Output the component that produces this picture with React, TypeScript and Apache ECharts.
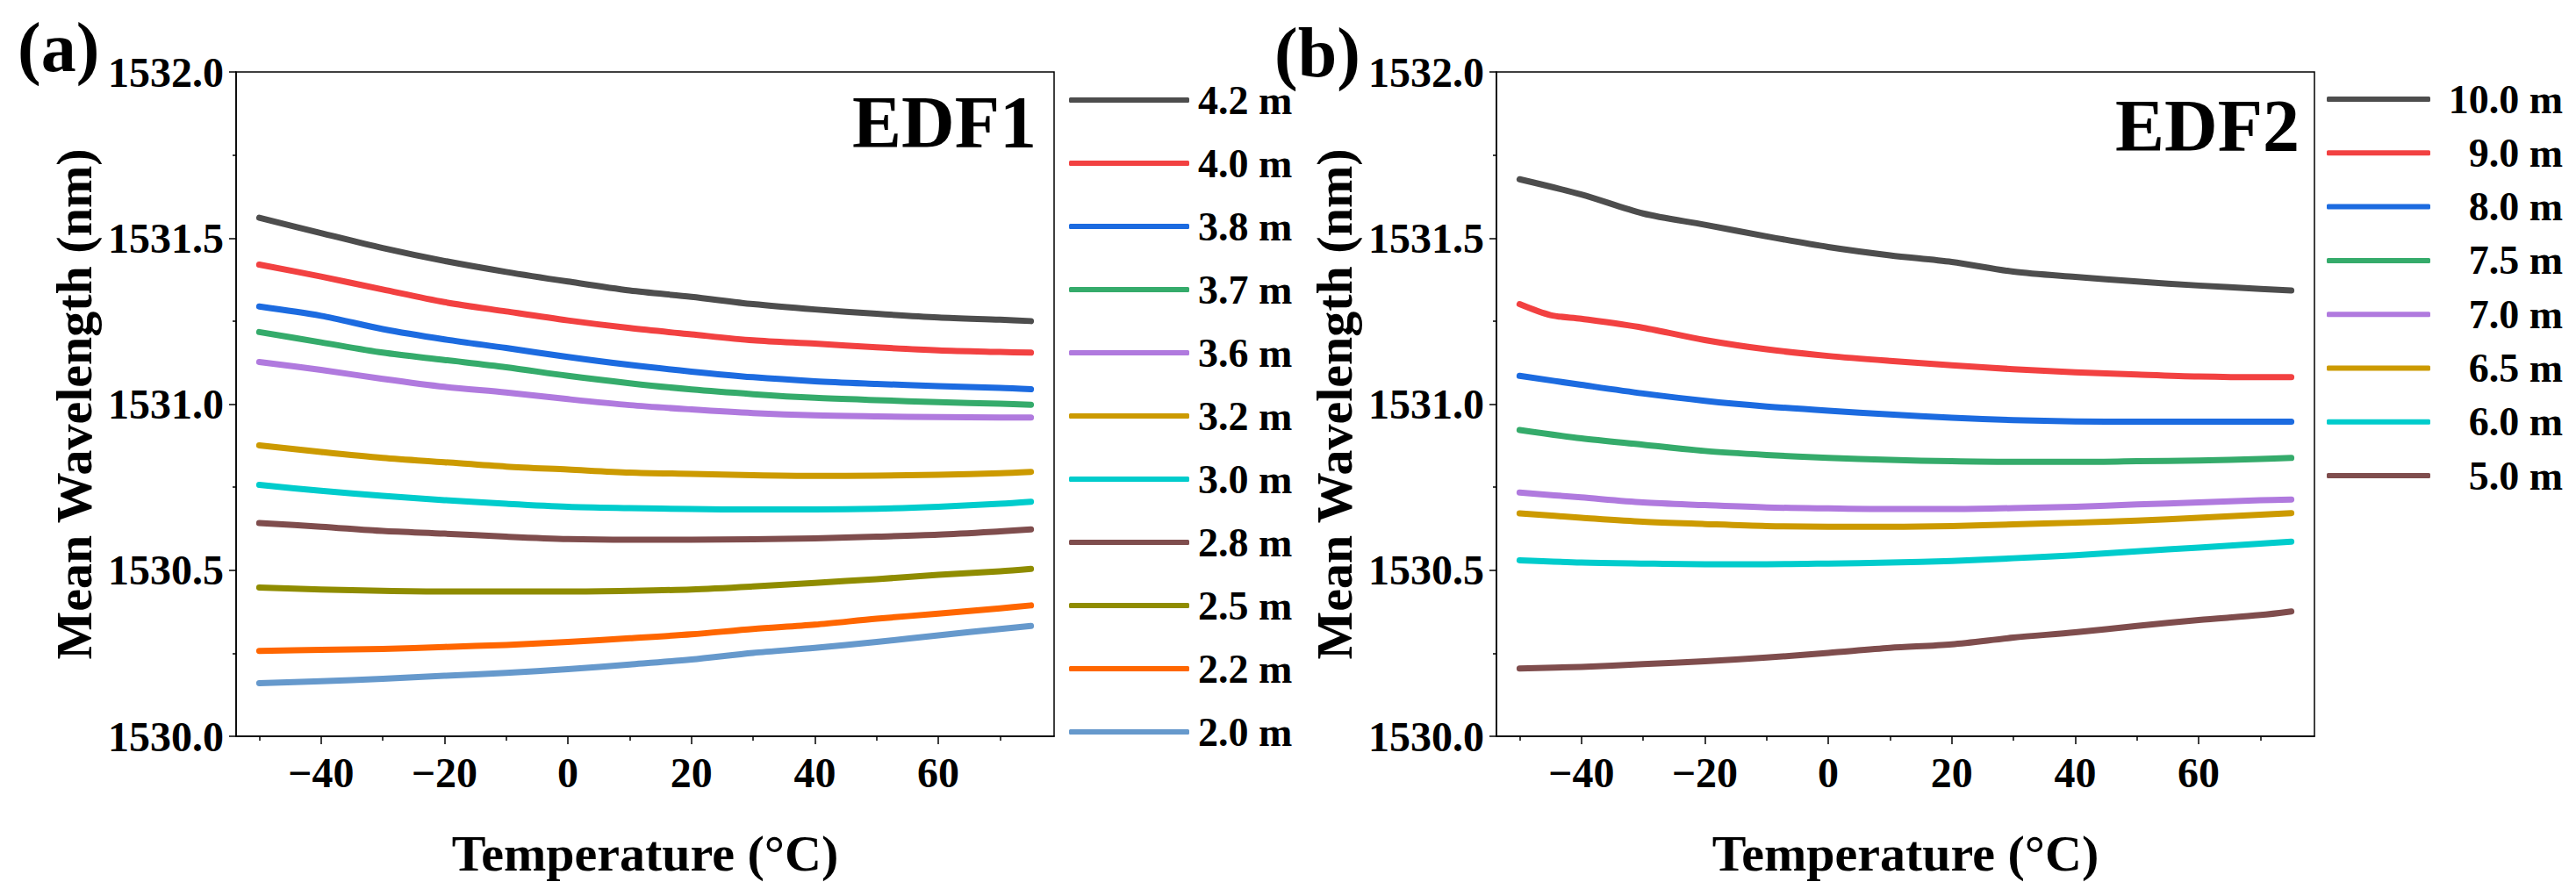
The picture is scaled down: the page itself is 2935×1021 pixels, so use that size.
import React, { useEffect, useRef } from "react";
import * as echarts from "echarts";

const TEMPS = [-50, -40, -30, -20, -10, 0, 10, 20, 30, 40, 50, 60, 70, 75];
const TEMPS_9 = [-50, -45, -40, -30, -20, -10, 0, 10, 20, 30, 40, 50, 60, 70, 75];

const X_MAJOR = [-40, -20, 0, 20, 40, 60];
const X_MINOR = [-50, -30, -10, 10, 30, 50, 70];

// EDF1
const L42 = [1531.561, 1531.515, 1531.47, 1531.431, 1531.398, 1531.369, 1531.342, 1531.323, 1531.301, 1531.285, 1531.272, 1531.261, 1531.254, 1531.25];
const L40 = [1531.42, 1531.384, 1531.345, 1531.307, 1531.279, 1531.252, 1531.229, 1531.21, 1531.192, 1531.182, 1531.171, 1531.162, 1531.157, 1531.155];
const L38 = [1531.294, 1531.266, 1531.226, 1531.195, 1531.169, 1531.142, 1531.118, 1531.098, 1531.081, 1531.069, 1531.061, 1531.054, 1531.049, 1531.045];
const L37 = [1531.217, 1531.186, 1531.155, 1531.133, 1531.111, 1531.085, 1531.063, 1531.044, 1531.03, 1531.019, 1531.012, 1531.006, 1531.001, 1530.998];
const L36 = [1531.127, 1531.103, 1531.076, 1531.052, 1531.035, 1531.015, 1530.997, 1530.984, 1530.973, 1530.966, 1530.963, 1530.961, 1530.96, 1530.96];
const L32 = [1530.876, 1530.856, 1530.838, 1530.825, 1530.812, 1530.803, 1530.794, 1530.79, 1530.786, 1530.784, 1530.785, 1530.787, 1530.792, 1530.796];
const L30 = [1530.757, 1530.739, 1530.724, 1530.711, 1530.7, 1530.691, 1530.687, 1530.684, 1530.683, 1530.683, 1530.685, 1530.691, 1530.7, 1530.706];
const L28 = [1530.642, 1530.631, 1530.618, 1530.61, 1530.601, 1530.594, 1530.592, 1530.592, 1530.593, 1530.596, 1530.601, 1530.607, 1530.617, 1530.623];
const L25 = [1530.448, 1530.442, 1530.438, 1530.436, 1530.436, 1530.436, 1530.438, 1530.442, 1530.451, 1530.462, 1530.473, 1530.486, 1530.497, 1530.504];
const L22 = [1530.257, 1530.26, 1530.263, 1530.269, 1530.275, 1530.284, 1530.295, 1530.307, 1530.323, 1530.336, 1530.354, 1530.369, 1530.385, 1530.394];
const L20 = [1530.16, 1530.166, 1530.173, 1530.182, 1530.191, 1530.202, 1530.216, 1530.231, 1530.251, 1530.266, 1530.284, 1530.304, 1530.323, 1530.332];

// EDF2
const R100 = [1531.677, 1531.631, 1531.574, 1531.54, 1531.505, 1531.473, 1531.448, 1531.428, 1531.399, 1531.383, 1531.369, 1531.357, 1531.347, 1531.342];
const R90 = [1531.301, 1531.268, 1531.257, 1531.23, 1531.193, 1531.165, 1531.145, 1531.13, 1531.117, 1531.105, 1531.096, 1531.089, 1531.083, 1531.081, 1531.081];
const R80 = [1531.085, 1531.058, 1531.032, 1531.01, 1530.993, 1530.98, 1530.969, 1530.959, 1530.952, 1530.948, 1530.947, 1530.947, 1530.947, 1530.947];
const R75 = [1530.922, 1530.897, 1530.878, 1530.859, 1530.847, 1530.838, 1530.832, 1530.828, 1530.826, 1530.826, 1530.828, 1530.83, 1530.835, 1530.838];
const R70 = [1530.734, 1530.719, 1530.704, 1530.696, 1530.689, 1530.686, 1530.684, 1530.684, 1530.687, 1530.691, 1530.698, 1530.704, 1530.711, 1530.713];
const R65 = [1530.671, 1530.658, 1530.646, 1530.639, 1530.633, 1530.631, 1530.631, 1530.633, 1530.638, 1530.643, 1530.649, 1530.658, 1530.667, 1530.672];
const R60 = [1530.53, 1530.523, 1530.52, 1530.518, 1530.518, 1530.52, 1530.523, 1530.528, 1530.536, 1530.545, 1530.557, 1530.568, 1530.58, 1530.586];
const R50 = [1530.204, 1530.209, 1530.217, 1530.226, 1530.237, 1530.251, 1530.266, 1530.277, 1530.297, 1530.313, 1530.332, 1530.35, 1530.365, 1530.376];

const C_GRAY = "#4d4d4d";
const C_RED = "#f24141";
const C_BLUE = "#1c6be0";
const C_GREEN = "#35ab6b";
const C_PURPLE = "#b07ade";
const C_GOLD = "#cc9a00";
const C_CYAN = "#00cccc";
const C_BROWN = "#7f4d4d";
const C_OLIVE = "#8f8c00";
const C_ORANGE = "#ff6600";
const C_LBLUE = "#6699cc";

const LEFT_SERIES: [string, number[], number[], string][] = [
  ["4.2 m", TEMPS, L42, C_GRAY],
  ["4.0 m", TEMPS, L40, C_RED],
  ["3.8 m", TEMPS, L38, C_BLUE],
  ["3.7 m", TEMPS, L37, C_GREEN],
  ["3.6 m", TEMPS, L36, C_PURPLE],
  ["3.2 m", TEMPS, L32, C_GOLD],
  ["3.0 m", TEMPS, L30, C_CYAN],
  ["2.8 m", TEMPS, L28, C_BROWN],
  ["2.5 m", TEMPS, L25, C_OLIVE],
  ["2.2 m", TEMPS, L22, C_ORANGE],
  ["2.0 m", TEMPS, L20, C_LBLUE],
];

const RIGHT_SERIES: [string, number[], number[], string][] = [
  ["10.0 m", TEMPS, R100, C_GRAY],
  ["9.0 m", TEMPS_9, R90, C_RED],
  ["8.0 m", TEMPS, R80, C_BLUE],
  ["7.5 m", TEMPS, R75, C_GREEN],
  ["7.0 m", TEMPS, R70, C_PURPLE],
  ["6.5 m", TEMPS, R65, C_GOLD],
  ["6.0 m", TEMPS, R60, C_CYAN],
  ["5.0 m", TEMPS, R50, C_BROWN],
];

const FONT = "'Liberation Serif', 'Times New Roman', serif";

function xAxes(gridIndex: number) {
  const main = {
    type: "value",
    gridIndex,
    min: -53.75,
    max: 78.75,
    position: "bottom",
    splitLine: { show: false },
    axisLine: { show: true, onZero: false, lineStyle: { color: "#000", width: 1.5 } },
    axisTick: { show: true, customValues: X_MAJOR, length: 9, lineStyle: { color: "#000", width: 1.5 } },
    axisLabel: {
      customValues: X_MAJOR,
      fontSize: 48,
      fontWeight: "bold",
      fontFamily: FONT,
      color: "#000",
      margin: 17,
      formatter: (v: number) => (v < 0 ? "\u2212" + Math.abs(v) : String(v)),
    },
    name: "Temperature (\u00b0C)",
    nameLocation: "middle",
    nameGap: 104,
    nameTextStyle: { fontSize: 58, fontWeight: "bold", fontFamily: FONT, color: "#000" },
  };
  const minor = {
    type: "value",
    gridIndex,
    min: -53.75,
    max: 78.75,
    position: "bottom",
    splitLine: { show: false },
    axisLine: { show: false, onZero: false },
    axisTick: { show: true, customValues: X_MINOR, length: 5, lineStyle: { color: "#000", width: 1.5 } },
    axisLabel: { show: false },
  };
  return [main, minor];
}

function yAxis(gridIndex: number) {
  return {
    type: "value",
    gridIndex,
    min: 1530,
    max: 1532,
    interval: 0.5,
    splitLine: { show: false },
    axisLine: { show: true, onZero: false, lineStyle: { color: "#000", width: 1.5 } },
    axisTick: { show: true, length: 8, lineStyle: { color: "#000", width: 1.5 } },
    minorTick: { show: true, splitNumber: 2, length: 4, lineStyle: { color: "#000", width: 1.5 } },
    axisLabel: {
      fontSize: 48,
      fontWeight: "bold",
      fontFamily: FONT,
      color: "#000",
      margin: 14,
      formatter: (v: number) => v.toFixed(1),
    },
    name: "Mean Wavelength (nm)",
    nameLocation: "middle",
    nameGap: 156,
    nameRotate: 90,
    nameTextStyle: { fontSize: 58, fontWeight: "bold", fontFamily: FONT, color: "#000" },
  };
}

function makeSeries(list: [string, number[], number[], string][], xIdx: number, yIdx: number) {
  return list.map(([name, xs, ys, color]) => ({
    name,
    type: "line",
    xAxisIndex: xIdx,
    yAxisIndex: yIdx,
    data: xs.map((x, i) => [x, ys[i]]),
    showSymbol: false,
    symbol: "none",
    smooth: 0.3,
    color,
    lineStyle: { color, width: 7, cap: "round", join: "round" },
    emphasis: { disabled: true },
  }));
}

export default function App() {
  const ref = useRef<HTMLDivElement>(null);
  useEffect(() => {
    if (!ref.current) return;
    const chart = echarts.init(ref.current, undefined, { renderer: "svg" });
    const option = {
      animation: false,
      backgroundColor: "#fff",
      grid: [
        { left: 269, top: 82, width: 932, height: 757, show: true, borderColor: "#000", borderWidth: 1.5, backgroundColor: "transparent" },
        { left: 1705, top: 82, width: 932, height: 757, show: true, borderColor: "#000", borderWidth: 1.5, backgroundColor: "transparent" },
      ],
      xAxis: [...xAxes(0), ...xAxes(1)],
      yAxis: [yAxis(0), yAxis(1)],
      legend: [
        {
          data: LEFT_SERIES.map((s) => s[0]),
          orient: "vertical",
          left: 1213,
          top: 84,
          itemWidth: 137,
          itemHeight: 6,
          icon: "roundRect",
          itemGap: 22,
          selectedMode: false,
          textStyle: { fontSize: 46, fontWeight: "bold", fontFamily: FONT, color: "#000", lineHeight: 50, padding: [0, 0, 0, 5] },
        },
        {
          data: RIGHT_SERIES.map((s) => s[0]),
          orient: "vertical",
          left: 2646,
          top: 84,
          itemWidth: 118,
          itemHeight: 6,
          icon: "roundRect",
          itemGap: 13.3,
          selectedMode: false,
          formatter: "{a|{name}}",
          textStyle: {
            fontSize: 46,
            fontWeight: "bold",
            fontFamily: FONT,
            color: "#000",
            lineHeight: 48,
            padding: [0, 0, 0, 7],
            rich: { a: { width: 139, align: "right", fontSize: 46, fontWeight: "bold", fontFamily: FONT, color: "#000", lineHeight: 48 } },
          },
        },
      ],
      graphic: [
        { type: "text", left: 20, top: 14, style: { text: "(a)", font: `bold 80px ${FONT}`, fill: "#000" } },
        { type: "text", left: 1452, top: 20, style: { text: "(b)", font: `bold 80px ${FONT}`, fill: "#000" } },
        { type: "text", x: 1181, y: 139, style: { text: "EDF1", font: `bold 84px ${FONT}`, fill: "#000", align: "right", verticalAlign: "middle" } },
        { type: "text", x: 2620, y: 143, style: { text: "EDF2", font: `bold 84px ${FONT}`, fill: "#000", align: "right", verticalAlign: "middle" } },
      ],
      series: [...makeSeries(LEFT_SERIES, 0, 0), ...makeSeries(RIGHT_SERIES, 2, 1)],
    };
    chart.setOption(option as any);
    return () => chart.dispose();
  }, []);
  return <div ref={ref} style={{ position: "absolute", left: 0, top: 0, width: 2935, height: 1021 }} />;
}
